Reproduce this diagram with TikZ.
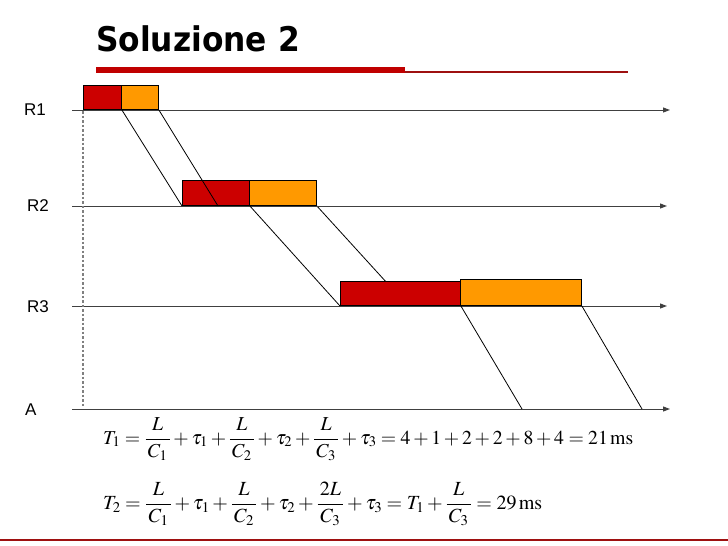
\documentclass[tikz,border=0pt]{standalone}
\usepackage{graphicx}
\usepackage{mathptmx}
\usepackage{fontspec}
\setmainfont{Liberation Serif}
\setsansfont{Liberation Sans}
\newfontfamily\titlefont[FakeStretch=0.92]{DejaVu Sans}
\usetikzlibrary{arrows.meta,backgrounds}
\definecolor{boxred}{HTML}{CC0000}
\definecolor{boxorange}{HTML}{FF9900}
\definecolor{barred}{HTML}{C00000}
\definecolor{thinred}{HTML}{9E1010}
\definecolor{axisgray}{HTML}{404040}
\newcommand{\pf}[2]{\frac{\,#1\,}{\,#2\,}}
\tikzset{
  axisline/.style={draw=axisgray, line width=1pt, -{Triangle[length=7pt,width=5pt]}},
  lbl/.style={anchor=west, inner sep=0pt, font=\sffamily\fontsize{17}{19}\selectfont},
  redbox/.style={draw=black, fill=boxred, line width=0.9pt, rectangle, inner sep=0pt, anchor=south west},
  orangebox/.style={draw=black, fill=boxorange, line width=0.9pt, rectangle, inner sep=0pt, anchor=south west},
  hop/.style={draw=black, line width=0.8pt},
  eq/.style={anchor=base west, inner sep=0pt, font=\fontsize{21}{25}\selectfont}
}
\begin{document}
\begin{tikzpicture}[x=1pt,y=-1pt]
\useasboundingbox (0,0) rectangle (728,546);
% title
\node[anchor=base west, inner sep=0pt, font=\titlefont\bfseries\fontsize{34}{40}\selectfont] (title) at (96,51.7) {Soluzione 2};
\fill[barred] (96,67) rectangle (405,73);
\draw[thinred, line width=1.2pt] (405,72) -- (628,72);
% axes
\coordinate (r1s) at (72,110); \coordinate (r1e) at (670,110);
\coordinate (r2s) at (72,206); \coordinate (r2e) at (667,206);
\coordinate (r3s) at (72,306); \coordinate (r3e) at (667,306);
\coordinate (as) at (72,409); \coordinate (ae) at (670,409);
\draw[axisline] (r1s) -- (r1e);
\draw[axisline] (r2s) -- (r2e);
\draw[axisline] (r3s) -- (r3e);
\draw[axisline] (as) -- (ae);
\node[lbl] (lr1) at (24,110) {R1};
\node[lbl] (lr2) at (27,206) {R2};
\node[lbl] (lr3) at (27,307) {R3};
\node[lbl] (la) at (25,410) {A};
% dashed start line
\coordinate (d1) at (83,111); \coordinate (d2) at (83,406);
\draw[gray, line width=1.2pt, dash pattern=on 2.5pt off 2pt] (d1) -- (d2);
% boxes
\node[redbox, minimum width=38pt, minimum height=24pt] (b1r) at (83,110) {};
\node[orangebox, minimum width=37pt, minimum height=24pt] (b1o) at (121,110) {};
\node[redbox, minimum width=67pt, minimum height=25pt] (b2r) at (182,206) {};
\node[orangebox, minimum width=67pt, minimum height=25pt] (b2o) at (249,206) {};
\node[redbox, minimum width=120pt, minimum height=24.5pt] (b3r) at (340,306) {};
\node[orangebox, minimum width=121pt, minimum height=26pt] (b3o) at (460,306) {};
% hops
\coordinate (p2) at (218,206);
\coordinate (p4) at (408,306);
\coordinate (p5) at (522,409);
\coordinate (p6) at (642,409);
\draw[hop] (b1r.south east) -- (b2r.south west);
\draw[hop] (b1o.south east) -- (p2);
\draw[hop] (b2r.south east) -- (b3r.south west);
\begin{pgfonlayer}{background}
\draw[hop] (b2o.south east) -- (p4);
\end{pgfonlayer}
\draw[hop] (b3r.south east) -- (p5);
\draw[hop] (b3o.south east) -- (p6);
% equations
\node[eq] (eq1) at (103,444) {\resizebox{530pt}{!}{$\displaystyle T_1 = \pf{L}{C_1} + \tau_1 + \pf{L}{C_2} + \tau_2 + \pf{L}{C_3} + \tau_3 = 4 + 1 + 2 + 2 + 8 + 4 = 21\,\mathrm{ms}$}};
\node[eq] (eq2) at (103,509) {\resizebox{439pt}{!}{$\displaystyle T_2 = \pf{L}{C_1} + \tau_1 + \pf{L}{C_2} + \tau_2 + \pf{2L}{C_3} + \tau_3 = T_1 + \pf{L}{C_3} = 29\,\mathrm{ms}$}};
% bottom rule
\draw[thinred, line width=1.5pt] (0,540) -- (728,540);
\end{tikzpicture}
\end{document}
